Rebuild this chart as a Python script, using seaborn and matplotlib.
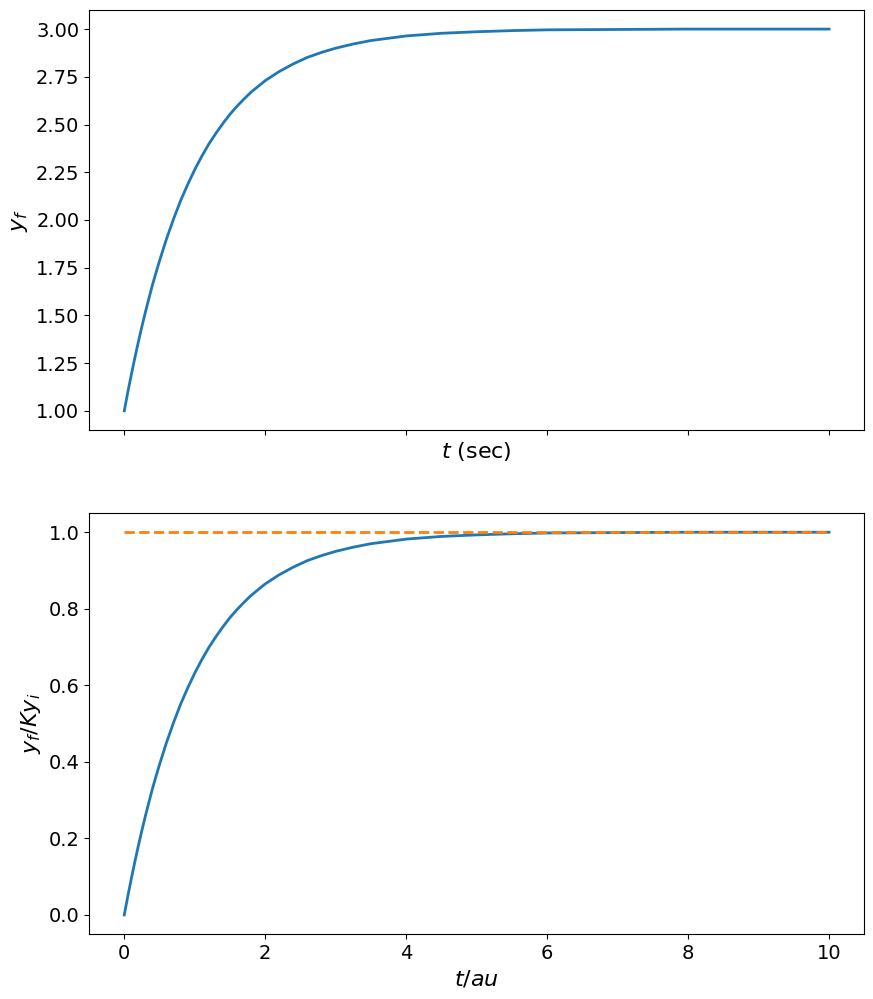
import matplotlib
matplotlib.use("Agg")
import matplotlib.pyplot as plt
import seaborn as sns
import pandas as pd

# values
t_vals = [0.0, 0.05, 0.1, 0.15, 0.2, 0.25, 0.3, 0.35, 0.4, 0.45,
          0.5, 0.6, 0.7, 0.8, 0.9, 1.0,
          1.1, 1.2, 1.3, 1.4, 1.5, 1.6, 1.7, 1.8, 1.9, 2.0,
          2.2, 2.4, 2.6, 2.8, 3.0,
          3.25, 3.5, 3.75, 4.0,
          4.5, 5.0, 5.5, 6.0,
          7.0, 8.0, 9.0, 10.0]
y_f = [1.000, 1.098, 1.190, 1.278, 1.362, 1.442, 1.518, 1.590, 1.660, 1.724,
       1.786, 1.902, 2.006, 2.102, 2.186, 2.264,
       2.334, 2.398, 2.454, 2.506, 2.554, 2.596, 2.634, 2.670, 2.700, 2.730,
       2.778, 2.818, 2.852, 2.878, 2.900,
       2.922, 2.940, 2.952, 2.964,
       2.978, 2.986, 2.992, 2.996,
       2.998, 3.000, 3.000, 3.000]
y_norm = [0.000, 0.049, 0.095, 0.139, 0.181, 0.221, 0.259, 0.295, 0.330, 0.362,
          0.393, 0.451, 0.503, 0.551, 0.593, 0.632,
          0.667, 0.699, 0.727, 0.753, 0.777, 0.798, 0.817, 0.835, 0.850, 0.865,
          0.889, 0.909, 0.926, 0.939, 0.950,
          0.961, 0.970, 0.976, 0.982,
          0.989, 0.993, 0.996, 0.998,
          0.999, 1.000, 1.000, 1.000]
ref_t = [0.0, 10.0]
ref_level = [1.0, 1.0]

df = pd.DataFrame({"t": t_vals, "yf": y_f, "yn": y_norm})
dref = pd.DataFrame({"t": ref_t, "lvl": ref_level})

fig = plt.figure(figsize=(8.73, 9.99), dpi=100)
ax1 = fig.add_axes([0.102, 0.5696, 0.888, 0.4204])
ax2 = fig.add_axes([0.102, 0.065, 0.888, 0.4214], sharex=ax1)

sns.lineplot(data=df, x="t", y="yf", ax=ax1, color="#1f77b4", linewidth=2)
sns.lineplot(data=df, x="t", y="yn", ax=ax2, color="#1f77b4", linewidth=2)
sns.lineplot(data=dref, x="t", y="lvl", ax=ax2, color="#ff7f0e", linewidth=2, linestyle="--")

ax1.set_xlabel(r"$t$ (sec)", fontsize=16)
ax1.set_ylabel(r"$y_f$", fontsize=16)
ax2.set_xlabel(r"$t/au$", fontsize=16)
ax2.set_ylabel(r"$y_f/Ky_i$", fontsize=16)
ax1.tick_params(labelbottom=False, labelsize=14)
ax2.tick_params(labelsize=14)
ax2.set_xticks([0, 2, 4, 6, 8, 10])
ax1.set_yticks([1.0, 1.25, 1.5, 1.75, 2.0, 2.25, 2.5, 2.75, 3.0])
ax1.set_yticklabels(["1.00", "1.25", "1.50", "1.75", "2.00", "2.25", "2.50", "2.75", "3.00"])
ax1.set_xlim(-0.5, 10.5)
ax1.set_ylim(0.9, 3.1)
ax2.set_ylim(-0.05, 1.05)

fig.savefig("out.png", dpi=100)
